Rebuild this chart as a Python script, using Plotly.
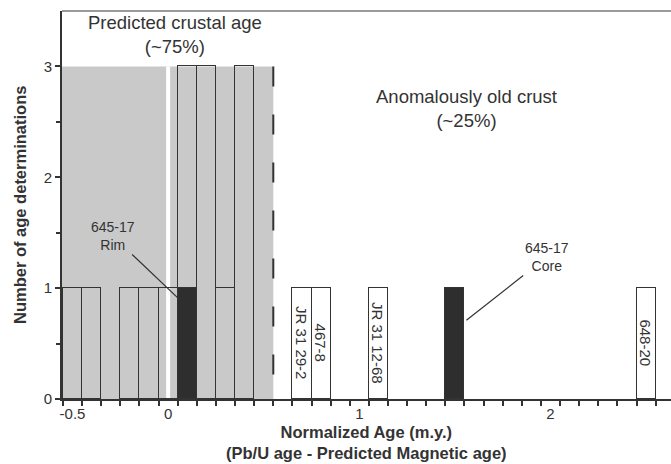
import plotly.graph_objects as go

# ---- data ----
crustal_centers = [-0.5, -0.4, -0.2, -0.1, 0.0, 0.2, 0.3, 0.4]
crustal_counts = [1, 1, 1, 1, 1, 3, 1, 3]
rim_center = [0.1]
rim_count = [1]
rim_stack_center = [0.1]
rim_stack_count = [2]
old_centers = [0.7, 0.8, 1.1, 2.5]
old_counts = [1, 1, 1, 1]
old_labels = ["JR 31 29-2", "467-8", "JR 31 12-68", "648-20"]
core_center = [1.5]
core_count = [1]

bin_width = 0.1
boundary = 0.55
x_ticks = [-0.5, 0, 1, 2]
x_ticktext = ["-0.5", "0", "1", "2"]
bin_edges = [round(-0.55 + 0.1 * i, 2) for i in range(32)]

FONT = "Liberation Sans, Arial, sans-serif"
DARK = "#333333"
GRAY = "#c9c9c9"

fig = go.Figure()

open_style = dict(marker=dict(color="rgba(0,0,0,0)", line=dict(color=DARK, width=1.5)),
                  width=bin_width, showlegend=False, hoverinfo="skip")
dark_style = dict(marker=dict(color="#2e2e2e", line=dict(color=DARK, width=1.5)),
                  width=bin_width, showlegend=False, hoverinfo="skip")

fig.add_trace(go.Bar(x=rim_center, y=rim_count, **dark_style))
fig.add_trace(go.Bar(x=core_center, y=core_count, **dark_style))
fig.add_trace(go.Bar(x=rim_stack_center, y=rim_stack_count, **open_style))
fig.add_trace(go.Bar(x=crustal_centers, y=crustal_counts, **open_style))
fig.add_trace(go.Bar(x=old_centers, y=old_counts, text=old_labels,
                     textposition="inside", textangle=90, insidetextanchor="middle",
                     textfont=dict(family=FONT, size=15, color=DARK),
                     constraintext="none", **open_style))

fig.update_layout(barmode="stack")

# shaded predicted region, white line at 0, dashed boundary
fig.add_shape(type="rect", xref="x", yref="y", x0=-0.555, x1=boundary, y0=0, y1=3,
              fillcolor=GRAY, line=dict(width=0), layer="below")
fig.add_shape(type="line", xref="x", yref="y", x0=0, x1=0, y0=0, y1=3,
              line=dict(color="white", width=4), layer="below")
fig.add_shape(type="line", xref="x", yref="y", x0=boundary, x1=boundary, y0=3, y1=0,
              line=dict(color=DARK, width=2, dash="20px,28px"))
fig.add_shape(type="line", xref="paper", yref="paper", x0=0, x1=1, y0=1, y1=1,
              line=dict(color="#9a9a9a", width=2))

# text annotations
fig.add_annotation(x=0.034, y=3.29, xref="x", yref="y", text="Predicted crustal age<br>(~75%)",
                   showarrow=False, font=dict(family=FONT, size=18.5, color=DARK))
fig.add_annotation(x=1.56, y=2.62, xref="x", yref="y", text="Anomalously old crust<br>(~25%)",
                   showarrow=False, font=dict(family=FONT, size=18.5, color=DARK))
fig.add_annotation(x=0.052, y=0.91, ax=-0.29, ay=1.47, xref="x", yref="y", axref="x", ayref="y",
                   text="645-17<br>Rim", showarrow=True, arrowhead=0, arrowwidth=1.2,
                   arrowcolor=DARK, font=dict(family=FONT, size=14, color=DARK))
fig.add_annotation(x=1.56, y=0.71, ax=1.98, ay=1.28, xref="x", yref="y", axref="x", ayref="y",
                   text="645-17<br>Core", showarrow=True, arrowhead=0, arrowwidth=1.2,
                   arrowcolor=DARK, font=dict(family=FONT, size=14, color=DARK))

# axis titles
fig.add_annotation(x=0.5, y=-0.057, xref="paper", yref="paper", xanchor="center", yanchor="top",
                   text="<b>Normalized Age (m.y.)<br>(Pb/U age - Predicted Magnetic age)</b>",
                   showarrow=False, font=dict(family=FONT, size=16.5, color=DARK))
fig.add_annotation(x=-0.069, y=0.5, xref="paper", yref="paper", xanchor="center", yanchor="middle",
                   text="<b>Number of age determinations</b>", textangle=-90,
                   showarrow=False, font=dict(family=FONT, size=16.5, color=DARK))

fig.update_xaxes(range=[-0.555, 2.63], tickvals=x_ticks, ticktext=x_ticktext, ticks="",
                 showgrid=False, zeroline=False, showline=True, linecolor=DARK, linewidth=2,
                 automargin=False,
                 tickfont=dict(family=FONT, size=15, color=DARK),
                 minor=dict(tickvals=bin_edges, ticks="outside", ticklen=5, tickwidth=1.5,
                            tickcolor=DARK, showgrid=False))
fig.update_yaxes(range=[0, 3.5], tickvals=[0, 1, 2, 3], ticks="outside", ticklen=5, tickwidth=1.5,
                 tickcolor=DARK, showgrid=False, zeroline=False, showline=True, linecolor=DARK,
                 linewidth=2, automargin=False, tickfont=dict(family=FONT, size=15, color=DARK),
                 minor=dict(tickvals=[0.5, 1.5, 2.5], ticks="outside", ticklen=4, tickwidth=1.5,
                            tickcolor=DARK, showgrid=False))

fig.update_layout(width=671, height=464, margin=dict(l=62, r=0, t=11, b=65, autoexpand=False),
                  plot_bgcolor="white", paper_bgcolor="white", bargap=0)

fig.write_html("out.html", config={"displayModeBar": False},
               post_script="document.body.style.margin='0';document.body.style.padding='0';")
